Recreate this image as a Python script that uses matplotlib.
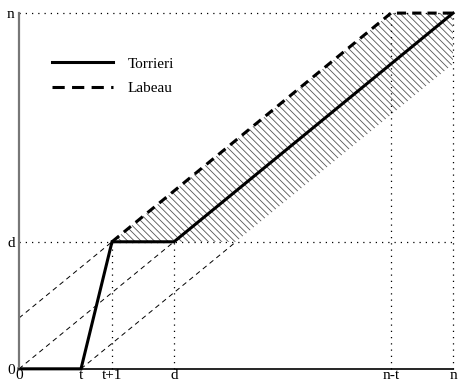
import numpy as np
import matplotlib.pyplot as plt
from matplotlib.patches import Polygon
from matplotlib.lines import Line2D

# parametres du schema
n = 14
t = 2
d = 5

# courbes
torrieri_x = [0, t, t + 1, d, n]
torrieri_y = [0, 0, d, d, n]
labeau_x = [t + 1, n - t, n]
labeau_y = [d, n, n]

# zone hachuree
zone_x = [t + 1, d + t, n, n, n - t]
zone_y = [d, d, n - t, n, n]

xticks = [0, t, t + 1, d, n - t, n]
xlabels = ["0", "t", "t+1", "d", "n-t", "n"]
yticks = [0, d, n]
ylabels = ["0", "d", "n"]

plt.rcParams['font.family'] = ['Liberation Serif', 'DejaVu Serif']
plt.rcParams['hatch.linewidth'] = 0.6

fig = plt.figure(figsize=(4.59, 3.85), dpi=100)
ax = fig.add_axes([0.0414, 0.042, 0.9456, 0.924])
ax.set_xlim(0, n)
ax.set_ylim(0, n)

# hachures
poly = Polygon(np.column_stack([zone_x, zone_y]), closed=True, facecolor="none",
               edgecolor="#555555", hatch="\\\\\\\\\\", linewidth=0)
ax.add_patch(poly)

# lignes pointillees
dot = dict(color="black", linestyle=(0, (1, 4)), linewidth=0.9, clip_on=False)
ax.plot([0, n], [d, d], **dot)
ax.plot([0, n], [n, n], **dot)
ax.plot([t + 1, t + 1], [0, d], **dot)
ax.plot([d, d], [0, d], **dot)
ax.plot([n - t, n - t], [0, n], **dot)
ax.plot([n, n], [0, n], **dot)

# droites de pente 1 en tirets fins
thin = dict(color="black", linestyle=(0, (5, 4)), linewidth=0.7)
ax.plot([0, t + 1], [d - t - 1, d], **thin)
ax.plot([0, d], [0, d], **thin)
ax.plot([t, d + t], [0, d], **thin)

ax.plot(torrieri_x, torrieri_y, color="black", linewidth=2.2,
        clip_on=False, solid_joinstyle="miter")
ax.plot(labeau_x, labeau_y, color="black", linewidth=2.2, linestyle=(0, (3, 2)),
        clip_on=False)

ax.set_xticks(xticks)
ax.set_xticklabels(xlabels)
ax.set_yticks(yticks)
ax.set_yticklabels(ylabels)
ax.tick_params(length=0, labelsize=11)
ax.tick_params(axis="x", pad=0)
ax.tick_params(axis="y", pad=3)

for s in ["top", "right"]:
    ax.spines[s].set_visible(False)
ax.spines["left"].set_color("#777777")
ax.spines["left"].set_linewidth(1.6)
ax.spines["bottom"].set_linewidth(1.2)

handles = [Line2D([], [], color="black", linewidth=2.2),
           Line2D([], [], color="black", linewidth=2.2, linestyle=(0, (4, 2.4)))]
leg = ax.legend(handles, ["Torrieri", "Labeau"], loc="upper left",
                bbox_to_anchor=(0.045, 0.915), frameon=False, fontsize=11,
                handlelength=3.95, handletextpad=1.0, labelspacing=0.72)

plt.savefig("out.png", dpi=100)
